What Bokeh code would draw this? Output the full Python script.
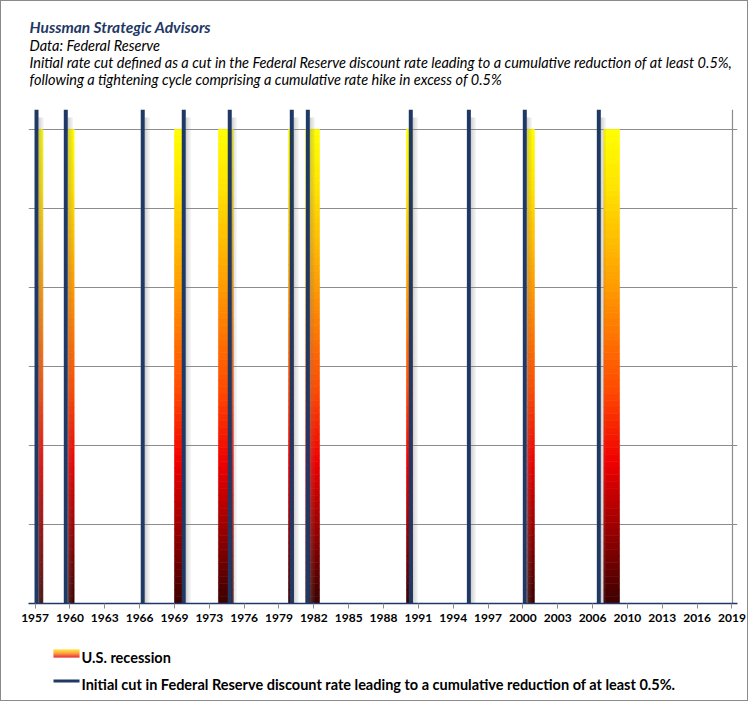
from bokeh.plotting import figure
from bokeh.layouts import column
from bokeh.models import FixedTicker, Range1d, ColumnDataSource
from bokeh.embed import file_html
from bokeh.resources import INLINE
from bokeh.core.properties import value

# ---------------- data ----------------
recession_start = [1957.91, 1960.51, 1969.92, 1973.81, 1980.01, 1981.54, 1990.45, 2001.15, 2007.91]
recession_end = [1958.27, 1961.04, 1970.65, 1975.12, 1980.45, 1982.75, 1990.98, 2001.77, 2009.30]
rate_cut_dates = [1957.71, 1960.30, 1967.11, 1970.74, 1974.81, 1980.30, 1981.72,
                  1990.83, 1995.97, 2000.92, 2007.47]
recession_level = 1.2
rate_cut_level = 1.25
tick_labels = ["1957", "1960", "1963", "1966", "1969", "1973", "1976", "1979", "1982",
               "1985", "1988", "1991", "1994", "1997", "2000", "2003", "2006", "2010",
               "2013", "2016", "2019"]
grid_levels = [0, 0.2, 0.4, 0.6, 0.8, 1.0, 1.2]
x_start, x_end = 1957.0, 2019.3       # plotted date span (right axis sits at x_end)

title_text = "Hussman  Strategic Advisors"
subtitle_lines = [
    "Data: Federal Reserve",
    "Initial rate cut defined as a cut in the Federal Reserve discount rate leading to a cumulative reduction of at least 0.5%,",
    "following a tightening cycle comprising a cumulative rate hike in  excess of 0.5%",
]
legend_labels = ["U.S. recession",
                 "Initial cut in Federal Reserve discount rate leading to a cumulative reduction of at least 0.5%."]

NAVY = "#1f3864"
GRAY = "#8c8c8c"
FONT = "Lato"
W = 748
BL, BR = 28, 11          # left / right borders shared by all blocks
px_per_year = 704 / (x_end - x_start)
x_view_end = x_end + 5 / px_per_year   # gridlines overhang the right axis like tick marks


def blank_fig(h):
    f = figure(width=W, height=h, output_backend="svg", toolbar_location=None,
               x_range=Range1d(BL, W - BR), y_range=Range1d(h, 0),
               min_border_left=BL, min_border_right=BR, min_border_top=0, min_border_bottom=0,
               x_axis_location=None, y_axis_location=None,
               background_fill_color="white", border_fill_color="white")
    f.outline_line_color = None
    f.grid.visible = False
    return f


def lerp_color(stops, t):
    for (t0, c0), (t1, c1) in zip(stops[:-1], stops[1:]):
        if t0 <= t <= t1:
            f = (t - t0) / (t1 - t0) if t1 > t0 else 0
            a = [int(c0[i:i + 2], 16) for i in (1, 3, 5)]
            b = [int(c1[i:i + 2], 16) for i in (1, 3, 5)]
            return "#%02x%02x%02x" % tuple(round(a[k] + (b[k] - a[k]) * f) for k in range(3))
    return stops[-1][1]


# ---------------- title block ----------------
TOP_H = 95
top = blank_fig(TOP_H)
top.text(x=[29], y=[26], text=[title_text], text_font=value(FONT), text_font_size="15.5px",
         text_font_style="bold italic", text_color=NAVY, text_baseline="alphabetic")
top.text(x=[29, 29, 29], y=[45, 62, 79], text=subtitle_lines, text_font=value(FONT),
         text_font_size="14.5px", text_font_style="italic", text_color="black",
         text_baseline="alphabetic")

# ---------------- main chart ----------------
MAIN_H = 535
p = figure(width=W, height=MAIN_H, output_backend="svg", toolbar_location=None,
           x_range=Range1d(x_start, x_view_end), y_range=Range1d(0, rate_cut_level),
           min_border_left=BL, min_border_right=BR, min_border_top=14, min_border_bottom=27,
           y_axis_location=None, background_fill_color="white", border_fill_color="white")
p.outline_line_color = None
p.xgrid.grid_line_color = None
p.ygrid.ticker = FixedTicker(ticks=grid_levels)
p.ygrid.grid_line_color = GRAY
p.ygrid.grid_line_width = 1

bar_stops = [(0.0, "#ffff00"), (0.12, "#ffe400"), (0.32, "#ffa000"), (0.55, "#ff4a00"),
             (0.70, "#f00000"), (0.85, "#960000"), (1.0, "#3c0000")]
N = 70
L, R, B, T, C = [], [], [], [], []
for s, e in zip(recession_start, recession_end):
    for k in range(N):
        L.append(s)
        R.append(e)
        T.append(recession_level * (1 - k / N))
        B.append(recession_level * (1 - (k + 1) / N))
        C.append(lerp_color(bar_stops, (k + 0.5) / N))
p.quad(left="l", right="r", bottom="b", top="t", fill_color="c", line_color="c", line_width=0.6,
       source=ColumnDataSource(dict(l=L, r=R, b=B, t=T, c=C)))

sh_alpha = [0.35, 0.26, 0.17, 0.09]
for j, a in enumerate(sh_alpha):
    x0 = [d + (2 + j * 1.3) / px_per_year for d in rate_cut_dates]
    x1 = [d + (2 + (j + 1) * 1.3) / px_per_year for d in rate_cut_dates]
    p.quad(left=x0, right=x1, bottom=0, top=rate_cut_level - 0.02,
           fill_color="#808080", fill_alpha=a, line_color=None)

p.segment(x0=rate_cut_dates, y0=0, x1=rate_cut_dates, y1=rate_cut_level,
          line_color=NAVY, line_width=4)

# right-hand (secondary) axis line
p.segment(x0=[x_end], y0=[0], x1=[x_end], y1=[rate_cut_level], line_color=GRAY, line_width=1.2)

tick_pos = [round(1957 + 7 / 12 + i * 37 / 12, 4) for i in range(len(tick_labels))]
xa = p.xaxis[0]
xa.ticker = FixedTicker(ticks=tick_pos)
xa.major_label_overrides = {t: lab for t, lab in zip(tick_pos, tick_labels)}
xa.minor_tick_line_color = None
xa.major_tick_in = 0
xa.major_tick_out = 5
xa.major_tick_line_color = GRAY
xa.axis_line_color = NAVY
xa.axis_line_width = 1.5
xa.major_label_standoff = 5
xa.major_label_text_font = FONT
xa.major_label_text_font_style = "bold"
xa.major_label_text_font_size = "12px"
xa.major_label_text_color = "black"

# ---------------- legend block ----------------
LEG_H = 701 - TOP_H - MAIN_H
leg = blank_fig(LEG_H)
leg_stops = [(0.0, "#ffd800"), (0.5, "#ff8000"), (1.0, "#e00000")]
ns = 8
leg.quad(left=[53] * ns, right=[79] * ns, top=[19 + k for k in range(ns)],
         bottom=[20 + k for k in range(ns)],
         fill_color=[lerp_color(leg_stops, k / (ns - 1)) for k in range(ns)], line_color=None)
leg.segment(x0=[53], y0=[50.5], x1=[79], y1=[50.5], line_color=NAVY, line_width=3)
leg.text(x=[81, 81], y=[27, 54], text=legend_labels, text_font=value(FONT), text_font_size="14.5px",
         text_font_style="bold", text_color="black", text_baseline="alphabetic")

frame_css = (":host { position: relative; }"
             ":host::after { content: ''; position: absolute; left: 0; top: 0; right: 0; bottom: 0;"
             " border: 1px solid #8a8a8a; pointer-events: none; z-index: 10; }")
layout = column(top, p, leg, spacing=0, stylesheets=[frame_css])
open("out.html", "w").write(file_html(layout, INLINE))
